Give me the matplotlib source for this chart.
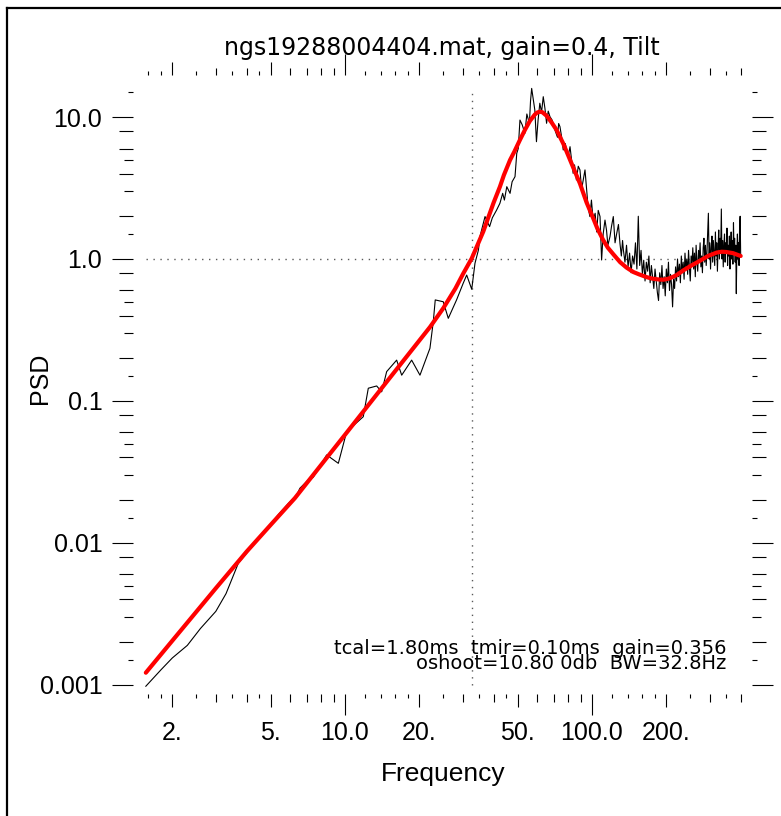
import matplotlib.pyplot as plt
from matplotlib.lines import Line2D
from matplotlib.ticker import NullFormatter

# measured PSD (black)
freq = [1.5625, 1.8, 2.0, 2.3, 2.6, 3.0, 3.3, 3.7, 4.2, 4.8,
        5.4, 5.9, 6.38, 6.57, 7.10, 7.44, 8.43, 9.40, 10.16, 11.86,
        12.43, 13.44, 14.08, 14.75, 16.19, 16.97, 18.62, 20.12, 22.08, 22.78,
        23.2, 25.0, 26.2, 28.3, 30.1, 31.1, 32.6, 33.6, 34.7, 35.2,
        36.9, 38.5, 39.5, 41.1, 42.4, 43.5, 44.2, 45.2, 46.6, 47.5,
        48.8, 49.6, 50.3, 51.1, 52.2, 53.5, 54.5, 55.8, 56.4, 57.0,
        58.7, 59.6, 60.5, 61.5, 62.5, 63.5, 64.5, 65.5, 66.5, 67.6,
        69.0, 70.8, 72.5, 73.3, 74.2, 75.3, 76.5, 78.0, 80.0, 81.5,
        82.7, 83.9, 85.0, 86.5, 88.0, 89.4, 90.8, 92.2, 93.7, 95.0,
        96.5, 98.1, 99.5, 101.1, 103.0, 104.5, 106.0, 107.8, 109.4, 111.0,
        112.9, 114.5, 116.0, 118.3, 120.0, 122.0, 124.0, 126.0, 128.0, 129.8,
        131.5, 133.0, 134.0,
        136, 138, 140, 142, 144, 146, 148, 150, 152, 154,
        156, 158, 160, 162, 164, 166, 168, 170, 172, 174,
        176, 178, 180, 182, 184, 186, 188, 190, 192, 194,
        196, 198, 200, 202, 204, 206, 208, 210, 212, 214,
        216, 218, 220, 222, 224, 226, 228, 230, 232, 234,
        236, 238, 240, 242, 244, 246, 248, 250, 252, 254,
        256, 258, 260, 262, 264, 266, 268, 270, 272, 274,
        276, 278, 280, 282, 284, 286, 288, 290, 292, 294,
        296, 298, 300, 302, 304, 306, 308, 310, 312, 314,
        316, 318, 320, 322, 324, 326, 328, 330, 332, 334,
        336, 338, 340, 342, 344, 346, 348, 350, 352, 354,
        356, 358, 360, 362, 364, 366, 368, 370, 372, 374,
        376, 378, 380, 382, 384, 386, 388, 390, 392, 394,
        396, 398, 400]
psd = [0.00098, 0.00128, 0.00155, 0.0019, 0.0025, 0.0033, 0.0044, 0.0072, 0.0094, 0.0125,
       0.016, 0.019, 0.0218, 0.0243, 0.0278, 0.0290, 0.0417, 0.0364, 0.0608, 0.0775,
       0.123, 0.1276, 0.116, 0.161, 0.194, 0.152, 0.194, 0.152, 0.235, 0.362,
       0.515, 0.500, 0.382, 0.515, 0.674, 0.771, 0.612, 0.933, 1.157, 1.44,
       1.99, 1.69, 1.95, 2.21, 2.47, 2.9, 2.6, 3.23, 2.90, 3.5,
       3.80, 5.55, 6.0, 9.52, 8.8, 7.68, 10.5, 9.0, 13.0, 15.9,
       11.2, 6.70, 9.5, 12.5, 10.8, 13.9, 11.5, 9.03, 11.0, 10.05,
       9.5, 8.10, 7.2, 9.0, 8.55, 7.3, 5.86, 6.5, 5.2, 6.18,
       5.0, 4.01, 4.6, 3.6, 4.5, 4.24, 3.1, 3.60, 4.24, 3.2,
       2.3, 1.99, 2.6, 1.88, 2.1, 1.55, 2.2, 1.99, 0.984, 1.5,
       1.88, 1.6, 1.25, 1.44, 1.7, 1.99, 1.3, 1.52, 1.75, 1.29,
       1.05, 1.35, 1.16,
       0.95, 1.25, 0.88, 1.10, 0.80, 1.05, 0.92, 1.30, 0.85, 2.00,
       0.90, 1.15, 0.78, 0.98, 0.70, 0.95, 0.82, 1.05, 0.68, 0.90,
       0.75, 0.62, 0.85, 0.70, 0.58, 0.51, 0.80, 0.66, 0.90, 0.62,
       0.75, 0.55, 0.85, 0.68, 0.95, 0.60, 0.78, 0.66, 0.46, 0.72,
       0.62, 0.88, 0.70, 1.00, 0.75, 0.92, 0.68, 1.05, 0.80, 0.95,
       0.72, 1.10, 0.85, 1.00, 0.78, 1.15, 0.88, 0.70, 1.05, 0.92,
       1.20, 0.85, 1.10, 0.75, 1.25, 0.95, 0.82, 1.15, 1.00, 1.30,
       0.88, 1.05, 0.80, 1.20, 1.40, 0.95, 1.25, 0.90, 1.10, 1.50,
       2.10, 1.00, 1.30, 0.85, 1.20, 1.45, 0.95, 1.35, 1.10, 0.90,
       1.55, 1.05, 1.30, 0.82, 1.20, 1.60, 1.00, 1.40, 1.15, 2.25,
       1.00, 1.35, 0.88, 1.25, 1.50, 0.95, 1.30, 1.10, 1.65, 0.90,
       1.25, 1.05, 1.45, 0.85, 1.20, 1.55, 1.00, 1.35, 0.92, 1.80,
       1.10, 1.40, 0.95, 1.25, 0.57, 1.15, 1.50, 1.00, 1.30, 0.90,
       1.70, 2.00, 1.05]

# model fit (red)
fit_freq = [1.5625, 2.0, 3.0, 4.0, 5.0, 6.27, 8.94, 10.0, 15.0, 22.1,
            25.0, 28.0, 30.0, 32.6, 36.3, 38.0, 40.0, 42.4, 44.0, 46.6,
            48.5, 51.1, 53.5, 56.1, 58.7, 60.0, 61.5, 63.0, 65.5, 68.5,
            71.9, 76.5, 80.0, 84.0, 89.4, 95.1, 101.0, 105.0, 111.0, 116.0,
            122.0, 130.0, 138.0, 147.0, 155.0, 166.5, 175.0, 188.0, 195.0, 206.0,
            220.0, 234.0, 250.0, 273.0, 295.0, 320.0, 335.0, 350.0, 372.0, 400.0]
fit_psd = [0.00122, 0.00205, 0.0048, 0.0087, 0.0134, 0.0207, 0.0452, 0.0578, 0.1415, 0.332,
           0.45, 0.62, 0.78, 1.01, 1.56, 1.95, 2.5, 3.23, 3.9, 4.98,
           5.7, 6.9, 8.1, 9.4, 10.4, 10.75, 10.9, 10.8, 10.2, 9.2,
           8.1, 6.5, 5.4, 4.4, 3.4, 2.5, 1.95, 1.65, 1.36, 1.2,
           1.08, 0.95, 0.87, 0.81, 0.78, 0.745, 0.728, 0.716, 0.715, 0.73,
           0.77, 0.83, 0.89, 0.97, 1.05, 1.11, 1.125, 1.12, 1.10, 1.05]

bw = 32.8
title = "ngs19288004404.mat, gain=0.4, Tilt"
info1 = "tcal=1.80ms  tmir=0.10ms  gain=0.356"
info2 = "oshoot=10.80 0db  BW=32.8Hz"

xtick_vals = [2, 5, 10, 20, 50, 100, 200]
xtick_labels = ["2.", "5.", "10.0", "20.", "50.", "100.0", "200."]
ytick_vals = [0.001, 0.01, 0.1, 1, 10]
ytick_labels = ["0.001", "0.01", "0.1", "1.0", "10.0"]

# IDL style minor ticks (small and tiny)
x_minor_small = [3, 4, 6, 7, 8, 9, 30, 40, 60, 70, 80, 90, 300, 400]
x_minor_tiny = [1.6, 1.8, 2.5, 3.5, 4.5, 12, 14, 16, 18, 25, 35, 45,
                120, 140, 160, 180, 250, 350]
y_minor_med = []
y_minor_short = []
y_minor_tiny = []
for d in [0.001, 0.01, 0.1, 1]:
    y_minor_med += [2*d, 4*d, 6*d, 8*d]
    y_minor_short += [3*d, 5*d]
    y_minor_tiny += [1.5*d]
y_minor_tiny += [15]

plt.rcParams['font.family'] = ['Liberation Sans', 'DejaVu Sans']

fig = plt.figure(figsize=(7.81, 8.16), dpi=100)
W, H = 781, 816
ax = fig.add_axes([133/W, 1-694/H, (752-133)/W, (694-75)/H])
ax.set_xscale('log')
ax.set_yscale('log')
ax.set_xlim(1.3863, 444.5)
ax.set_ylim(0.000864, 19.76)
for s in ax.spines.values():
    s.set_visible(False)

ax.hlines(1.0, freq[0], freq[-1], colors='0.35', linestyles=(0, (1, 4)), lw=1)
ax.vlines(bw, ytick_vals[0], 15, colors='0.35', linestyles=(0, (1, 4)), lw=1)
ax.plot(freq, psd, color='black', lw=0.8)
ax.plot(fit_freq, fit_psd, color='red', lw=3, solid_capstyle='round',
        solid_joinstyle='round')

ax.set_xticks(xtick_vals, xtick_labels)
ax.set_xticks(x_minor_small + x_minor_tiny, minor=True)
ax.set_yticks(ytick_vals, ytick_labels)
ax.set_yticks(y_minor_med + y_minor_short + y_minor_tiny, minor=True)
ax.xaxis.set_minor_formatter(NullFormatter())
ax.yaxis.set_minor_formatter(NullFormatter())

ax.tick_params(axis='x', which='major', direction='out', length=9.4, width=0.8,
               top=True, labelsize=18, pad=10)
ax.tick_params(axis='x', which='minor', direction='out', length=5.4, width=0.8, top=True)
ax.tick_params(axis='y', which='major', direction='out', length=15.1, width=0.8,
               right=True, labelsize=18, pad=7)
ax.tick_params(axis='y', which='minor', direction='out', length=10.1, width=0.8, right=True)

for v, t in zip(xtick_vals, ax.xaxis.get_major_ticks(len(xtick_vals))):
    if v in (10, 100):
        t.tick1line.set_markersize(15.1)
        t.tick2line.set_markersize(15.1)
xm = x_minor_small + x_minor_tiny
for v, t in zip(xm, ax.xaxis.get_minor_ticks(len(xm))):
    if v in x_minor_tiny:
        t.tick1line.set_markersize(2.9)
        t.tick2line.set_markersize(2.9)
ym = y_minor_med + y_minor_short + y_minor_tiny
for v, t in zip(ym, ax.yaxis.get_minor_ticks(len(ym))):
    if v in y_minor_short:
        t.tick1line.set_markersize(6.5)
        t.tick2line.set_markersize(6.5)
    elif v in y_minor_tiny:
        t.tick1line.set_markersize(3.6)
        t.tick2line.set_markersize(3.6)

fig.text(442/W, 1-55/H, title, ha='center', va='baseline', fontsize=17,
         family=['DejaVu Sans'])
fig.text(443/W, 1-781/H, "Frequency", ha='center', va='baseline', fontsize=19)
fig.text(40/W, 1-378/H, "PSD", ha='center', va='center', rotation=90, fontsize=18)
fig.text(726/W, 1-669/H, info1 + "\n" + info2, ha='right', va='baseline',
         multialignment='right', linespacing=0.7, fontsize=14,
         family=['DejaVu Sans'])

fig.add_artist(Line2D([7/W, 7/W], [0, 1-8/H], color='black', lw=1.6))
fig.add_artist(Line2D([7/W, 1], [1-8/H, 1-8/H], color='black', lw=1.6))

fig.savefig("out.png", dpi=100)
